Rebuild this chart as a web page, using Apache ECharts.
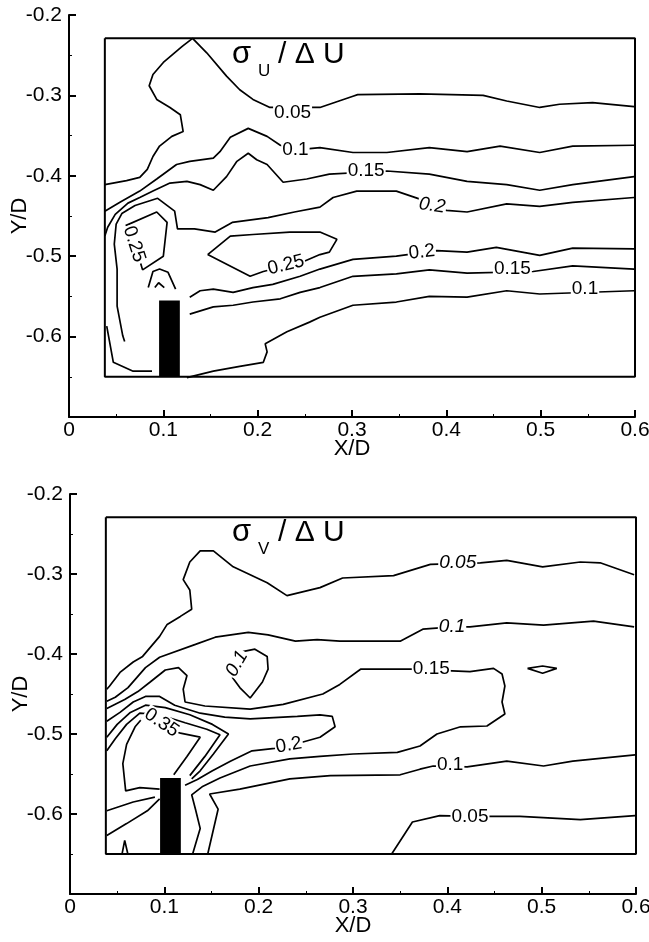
<!DOCTYPE html>
<html>
<head>
<meta charset="utf-8">
<script src="https://cdn.jsdelivr.net/npm/echarts@6/dist/echarts.min.js"></script>
<style>
html,body{margin:0;padding:0;background:#fff;}
#chart{width:649px;height:942px;}
</style>
</head>
<body>
<div id="chart"></div>
<script>
// Measurement window (data frame) and the bar model, in X/D, Y/D
const frameBox = [[0.038, -0.229], [0.6, -0.229], [0.6, -0.65], [0.038, -0.65], [0.038, -0.229]];
const barBox = [[0.0955, -0.555], [0.1175, -0.65]];

// ---- sigma_u / dU contours ----
const u005 = [[0.038,-0.411],[0.061,-0.406],[0.075,-0.402],[0.083,-0.392],[0.089,-0.376],[0.096,-0.363],[0.109,-0.351],[0.121,-0.345],[0.118,-0.324],[0.107,-0.315],[0.093,-0.305],[0.085,-0.288],[0.089,-0.274],[0.100,-0.259],[0.120,-0.239],[0.131,-0.229],[0.146,-0.247],[0.167,-0.276],[0.181,-0.293],[0.195,-0.305],[0.213,-0.315],[0.266,-0.315],[0.301,-0.301],[0.306,-0.299],[0.372,-0.298],[0.439,-0.300],[0.464,-0.307],[0.499,-0.315],[0.520,-0.311],[0.555,-0.309],[0.599,-0.314]];
const u010a = [[0.038,-0.444],[0.054,-0.433],[0.075,-0.419],[0.093,-0.404],[0.114,-0.386],[0.128,-0.382],[0.153,-0.378],[0.160,-0.370],[0.171,-0.352],[0.190,-0.341],[0.210,-0.351],[0.224,-0.362],[0.239,-0.368],[0.266,-0.365],[0.301,-0.371],[0.337,-0.371],[0.382,-0.365],[0.422,-0.370],[0.457,-0.363],[0.499,-0.371],[0.534,-0.363],[0.599,-0.362]];
const u015a = [[0.038,-0.475],[0.041,-0.464],[0.049,-0.448],[0.0625,-0.434],[0.075,-0.427],[0.089,-0.419],[0.107,-0.409],[0.125,-0.407],[0.139,-0.411],[0.153,-0.418],[0.167,-0.401],[0.178,-0.382],[0.190,-0.372],[0.199,-0.380],[0.210,-0.386],[0.227,-0.408],[0.252,-0.404],[0.276,-0.398],[0.337,-0.394],[0.382,-0.398],[0.422,-0.407],[0.464,-0.411],[0.499,-0.418],[0.534,-0.411],[0.599,-0.401]];
const u020a = [[0.059,-0.606],[0.057,-0.599],[0.051,-0.562],[0.051,-0.516],[0.048,-0.485],[0.050,-0.460],[0.056,-0.447],[0.070,-0.437],[0.094,-0.428],[0.112,-0.444],[0.115,-0.466],[0.133,-0.466],[0.155,-0.470],[0.173,-0.458],[0.211,-0.452],[0.239,-0.445],[0.266,-0.439],[0.280,-0.427],[0.305,-0.419],[0.347,-0.419],[0.372,-0.429],[0.400,-0.443],[0.422,-0.445],[0.464,-0.435],[0.499,-0.438],[0.534,-0.433],[0.599,-0.427]];
const u025a = [[0.076,-0.509],[0.078,-0.517],[0.100,-0.500],[0.104,-0.458],[0.093,-0.445],[0.060,-0.462]];
const u025b = [[0.147,-0.498],[0.171,-0.475],[0.195,-0.473],[0.234,-0.470],[0.266,-0.470],[0.284,-0.479],[0.276,-0.495],[0.266,-0.498],[0.250,-0.506],[0.206,-0.519],[0.192,-0.525],[0.147,-0.498]];
const u020b = [[0.128,-0.551],[0.139,-0.543],[0.153,-0.541],[0.174,-0.545],[0.195,-0.539],[0.216,-0.535],[0.245,-0.525],[0.266,-0.516],[0.301,-0.504],[0.347,-0.500],[0.390,-0.493],[0.422,-0.495],[0.453,-0.489],[0.499,-0.499],[0.534,-0.490],[0.599,-0.491]];
const u015b = [[0.128,-0.572],[0.153,-0.563],[0.174,-0.561],[0.195,-0.557],[0.224,-0.553],[0.245,-0.545],[0.266,-0.539],[0.301,-0.525],[0.347,-0.522],[0.382,-0.517],[0.422,-0.521],[0.492,-0.519],[0.534,-0.512],[0.599,-0.516]];
const u010b = [[0.125,-0.651],[0.153,-0.643],[0.181,-0.637],[0.206,-0.632],[0.210,-0.619],[0.208,-0.609],[0.231,-0.594],[0.255,-0.582],[0.266,-0.576],[0.301,-0.561],[0.347,-0.557],[0.382,-0.550],[0.422,-0.551],[0.464,-0.543],[0.499,-0.547],[0.599,-0.543]];
const u015c = [[0.040,-0.587],[0.047,-0.632],[0.068,-0.643],[0.088,-0.643]];
const u030a = [[0.084,-0.539],[0.089,-0.519],[0.096,-0.516],[0.105,-0.520],[0.113,-0.541]];
const u030b = [[0.091,-0.539],[0.095,-0.533],[0.101,-0.539]];
const uLines = [u005, u010a, u015a, u020a, u025a, u025b, u020b, u015b, u010b, u015c, u030a, u030b];
// contour labels: x, y, text
const uLabels = [[0.237,-0.321,'0.05'],[0.240,-0.368,'0.1'],[0.315,-0.394,'0.15'],[0.385,-0.437,'0.2'],[0.069,-0.485,'0.25'],[0.230,-0.511,'0.25'],[0.374,-0.495,'0.2'],[0.470,-0.516,'0.15'],[0.547,-0.541,'0.1']];
const uLabelTilt = [0, 0, 0, -8, -72, 14, 6, 0, 0];
const uLabelItalic = [false, false, false, true, false, false, false, false, false];

// ---- sigma_v / dU contours ----
const v005a = [[0.039,-0.444],[0.042,-0.440],[0.053,-0.423],[0.067,-0.410],[0.077,-0.403],[0.095,-0.378],[0.103,-0.363],[0.117,-0.353],[0.129,-0.344],[0.127,-0.320],[0.120,-0.307],[0.127,-0.285],[0.138,-0.271],[0.152,-0.271],[0.173,-0.291],[0.209,-0.311],[0.230,-0.327],[0.265,-0.317],[0.289,-0.305],[0.343,-0.302],[0.382,-0.288],[0.435,-0.286],[0.463,-0.283],[0.501,-0.291],[0.541,-0.285],[0.562,-0.286],[0.598,-0.301]];
const v010a = [[0.039,-0.459],[0.048,-0.454],[0.0615,-0.442],[0.080,-0.417],[0.095,-0.404],[0.133,-0.388],[0.154,-0.379],[0.189,-0.373],[0.210,-0.376],[0.239,-0.384],[0.262,-0.382],[0.286,-0.384],[0.350,-0.384],[0.374,-0.369],[0.406,-0.366],[0.424,-0.366],[0.463,-0.361],[0.502,-0.364],[0.555,-0.359],[0.598,-0.366]];
const v010loop = [[0.172,-0.429],[0.180,-0.442],[0.191,-0.455],[0.204,-0.435],[0.210,-0.419],[0.209,-0.403],[0.196,-0.394],[0.183,-0.397]];
const v015a = [[0.039,-0.468],[0.058,-0.457],[0.072,-0.447],[0.085,-0.435],[0.101,-0.420],[0.115,-0.417],[0.124,-0.427],[0.120,-0.444],[0.122,-0.460],[0.143,-0.465],[0.191,-0.469],[0.226,-0.463],[0.268,-0.450],[0.286,-0.438],[0.308,-0.419],[0.361,-0.419],[0.424,-0.422],[0.449,-0.418],[0.458,-0.425],[0.461,-0.440],[0.458,-0.460],[0.461,-0.475],[0.442,-0.490],[0.414,-0.491],[0.389,-0.500],[0.371,-0.515],[0.347,-0.523],[0.300,-0.525],[0.265,-0.528],[0.233,-0.531],[0.191,-0.540],[0.159,-0.555],[0.140,-0.566],[0.129,-0.576],[0.133,-0.594],[0.138,-0.618],[0.130,-0.650]];
const v015dot = [[0.485,-0.418],[0.501,-0.415],[0.516,-0.418],[0.501,-0.424],[0.485,-0.418]];
const v020 = [[0.039,-0.484],[0.053,-0.473],[0.067,-0.460],[0.080,-0.453],[0.095,-0.453],[0.111,-0.464],[0.138,-0.474],[0.164,-0.479],[0.191,-0.481],[0.241,-0.478],[0.265,-0.476],[0.278,-0.478],[0.281,-0.491],[0.265,-0.504],[0.247,-0.510],[0.217,-0.518],[0.193,-0.521],[0.170,-0.534],[0.151,-0.546],[0.135,-0.557],[0.122,-0.564]];
const v025a = [[0.039,-0.504],[0.050,-0.488],[0.064,-0.473],[0.080,-0.464],[0.101,-0.467],[0.127,-0.476],[0.151,-0.488],[0.168,-0.500],[0.152,-0.525],[0.138,-0.546],[0.129,-0.556]];
const v030a = [[0.039,-0.521],[0.048,-0.506],[0.060,-0.488],[0.074,-0.474],[0.095,-0.476],[0.122,-0.486],[0.145,-0.494],[0.159,-0.501],[0.143,-0.528],[0.127,-0.552]];
const v035 = [[0.095,-0.569],[0.074,-0.567],[0.059,-0.571],[0.056,-0.537],[0.060,-0.513],[0.069,-0.491],[0.077,-0.480],[0.117,-0.499],[0.138,-0.504],[0.124,-0.528],[0.110,-0.551]];
const v030b = [[0.039,-0.596],[0.067,-0.585],[0.090,-0.579]];
const v025b = [[0.039,-0.627],[0.060,-0.612],[0.082,-0.596],[0.095,-0.581]];
const v020c = [[0.055,-0.651],[0.058,-0.633],[0.0615,-0.651]];
const v010b = [[0.146,-0.650],[0.157,-0.594],[0.148,-0.575],[0.180,-0.569],[0.233,-0.556],[0.276,-0.552],[0.350,-0.551],[0.371,-0.544],[0.385,-0.540],[0.421,-0.541],[0.463,-0.534],[0.502,-0.540],[0.533,-0.534],[0.599,-0.526]];
const v005b = [[0.341,-0.650],[0.363,-0.610],[0.392,-0.602],[0.424,-0.603],[0.477,-0.603],[0.541,-0.607],[0.599,-0.602]];
const vLines = [v005a, v010a, v010loop, v015a, v015dot, v020, v025a, v030a, v035, v030b, v025b, v020c, v010b, v005b];
const vLabels = [[0.411,-0.286,'0.05'],[0.405,-0.366,'0.1'],[0.177,-0.412,'0.1'],[0.383,-0.418,'0.15'],[0.232,-0.514,'0.2'],[0.097,-0.486,'0.35'],[0.403,-0.539,'0.1'],[0.424,-0.603,'0.05']];
const vLabelTilt = [0, 0, 60, 0, 10, -34, 0, 0];
const vLabelItalic = [true, true, true, false, false, false, false, false];

const FONT = '"Liberation Sans", Arial, Helvetica, sans-serif';
const chart = echarts.init(document.getElementById('chart'));

function axesFor(gi) {
  const x = {
    type: 'value', gridIndex: gi, min: 0, max: 0.6, interval: 0.1,
    name: 'X/D', nameLocation: 'middle', nameGap: 21, nameMoveOverlap: false,
    nameTextStyle: { color: '#000', fontSize: 22, fontFamily: FONT },
    axisLine: { onZero: false, lineStyle: { color: '#000', width: 2 } },
    axisTick: { inside: true, length: 7, lineStyle: { color: '#000', width: 2 } },
    minorTick: { show: true, splitNumber: 2, length: 3, lineStyle: { color: '#000', width: 1 } },
    axisLabel: { color: '#000', fontSize: 21, fontFamily: FONT, margin: 3, hideOverlap: false },
    splitLine: { show: false }
  };
  const y = {
    type: 'value', gridIndex: gi, min: -0.7, max: -0.2, interval: 0.1,
    name: 'Y/D', nameLocation: 'middle', nameGap: 38, nameRotate: 90, nameMoveOverlap: false,
    nameTextStyle: { color: '#000', fontSize: 22, fontFamily: FONT },
    axisLine: { onZero: false, lineStyle: { color: '#000', width: 2 } },
    axisTick: { inside: true, length: 7, lineStyle: { color: '#000', width: 2 } },
    minorTick: { show: true, splitNumber: 2, length: 3, lineStyle: { color: '#000', width: 1 } },
    axisLabel: {
      color: '#000', fontSize: 21, fontFamily: FONT, margin: 7,
      formatter: v => (v < -0.69 ? '' : String(Math.round(v * 10) / 10))
    },
    splitLine: { show: false }
  };
  return [x, y];
}

function seriesFor(gi, lines, labels, tilt, italic) {
  const out = [];
  out.push({
    type: 'line', xAxisIndex: gi, yAxisIndex: gi, data: frameBox, showSymbol: false, silent: true,
    lineStyle: { color: '#000', width: 2 }, z: 3,
    markArea: {
      silent: true, itemStyle: { color: '#000', opacity: 1 },
      data: [[{ coord: barBox[0] }, { coord: barBox[1] }]]
    }
  });
  lines.forEach(d => out.push({
    type: 'line', xAxisIndex: gi, yAxisIndex: gi, data: d, showSymbol: false, silent: true,
    lineStyle: { color: '#000', width: 1.7 }, z: 4
  }));
  out.push({
    type: 'scatter', xAxisIndex: gi, yAxisIndex: gi, symbolSize: 1, silent: true, z: 6,
    itemStyle: { color: '#fff', opacity: 1 },
    data: labels.map((l, i) => ({
      value: [l[0], l[1]], name: l[2],
      label: { rotate: tilt[i], fontStyle: italic[i] ? 'italic' : 'normal' }
    })),
    label: {
      show: true, position: 'inside', formatter: p => p.name, color: '#000', opacity: 1,
      fontSize: 19, fontFamily: FONT, backgroundColor: '#fff', padding: [0, 1]
    }
  });
  return out;
}

function titleText(top, sub) {
  return {
    type: 'group', left: 232, top: top,
    children: [
      { type: 'text', x: 0, y: 0, style: { text: 'σ', font: '31px ' + FONT, fill: '#000' } },
      { type: 'text', x: 26, y: 24, style: { text: sub, font: '17px ' + FONT, fill: '#000' } },
      { type: 'text', x: 46, y: 1, style: { text: '/ Δ U', font: '30px ' + FONT, fill: '#000' } }
    ]
  };
}

const [x0, y0] = axesFor(0);
const [x1, y1] = axesFor(1);

chart.setOption({
  animation: false,
  grid: [
    { left: 69, top: 15, width: 566, height: 402, containLabel: false, outerBoundsMode: 'none' },
    { left: 70, top: 494, width: 566, height: 400, containLabel: false, outerBoundsMode: 'none' }
  ],
  xAxis: [x0, x1],
  yAxis: [y0, y1],
  graphic: [titleText(39, 'U'), titleText(517, 'V')],
  series: [].concat(
    seriesFor(0, uLines, uLabels, uLabelTilt, uLabelItalic),
    seriesFor(1, vLines, vLabels, vLabelTilt, vLabelItalic)
  )
});
</script>
</body>
</html>
